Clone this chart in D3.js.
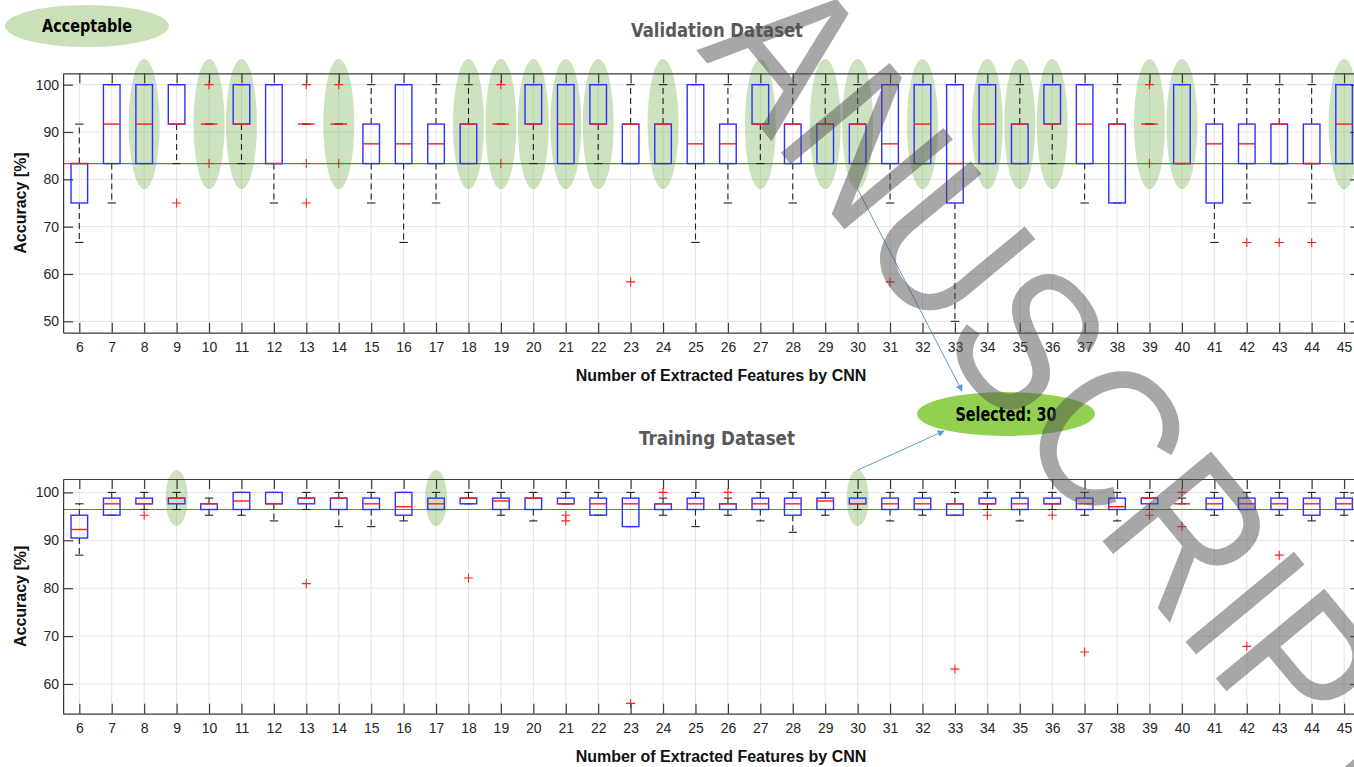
<!DOCTYPE html>
<html>
<head>
<meta charset="utf-8">
<script src="https://cdn.jsdelivr.net/npm/d3@7/dist/d3.min.js"></script>
<style>
	body { margin: 0; background: #fff; }
	svg { display: block; }
</style>
</head>
<body>
<div id="chart"></div>
<script>
// number of extracted features (x categories)
const FEATURES = [6,7,8,9,10,11,12,13,14,15,16,17,18,19,20,21,22,23,24,25,26,27,28,29,30,31,32,33,34,35,36,37,38,39,40,41,42,43,44,45];

// validation dataset box stats [%]
const VAL_Q1  = [75,83.33,83.33,91.67,91.67,91.67,83.33,91.67,91.67,83.33,83.33,83.33,83.33,91.67,91.67,83.33,91.67,83.33,83.33,83.33,83.33,91.67,83.33,83.33,83.33,83.33,83.33,75,83.33,83.33,91.67,83.33,75,91.67,83.33,75,83.33,83.33,83.33,83.33];
const VAL_MED = [83.33,91.67,91.67,91.67,91.67,91.67,83.33,91.67,91.67,87.5,87.5,87.5,91.67,91.67,91.67,91.67,91.67,91.67,91.67,87.5,87.5,91.67,91.67,91.67,91.67,87.5,91.67,83.33,91.67,91.67,91.67,91.67,91.67,91.67,83.33,87.5,87.5,91.67,83.33,91.67];
const VAL_Q3  = [83.33,100,100,100,91.67,100,100,91.67,91.67,91.67,100,91.67,91.67,91.67,100,100,100,91.67,91.67,100,91.67,100,91.67,91.67,91.67,100,100,100,100,91.67,100,100,91.67,91.67,100,91.67,91.67,91.67,91.67,100];
const VAL_LO  = [66.67,75,83.33,83.33,91.67,83.33,75,91.67,91.67,75,66.67,75,83.33,91.67,83.33,83.33,83.33,83.33,83.33,66.67,75,83.33,75,83.33,83.33,75,83.33,50,83.33,83.33,83.33,75,75,91.67,83.33,66.67,75,83.33,75,83.33];
const VAL_HI  = [91.67,100,100,100,91.67,100,100,91.67,91.67,100,100,100,100,91.67,100,100,100,100,100,100,100,100,100,100,100,100,100,100,100,100,100,100,100,91.67,100,100,100,100,100,100];
const VAL_OUT = [[],[],[],[75],[100,83.33],[],[],[100,83.33,75],[100,83.33],[],[],[],[],[100,83.33],[],[],[],[58.33],[],[],[],[],[],[],[],[58.33],[],[],[],[],[],[],[],[100,83.33],[],[],[66.67],[66.67],[66.67],[]];
const VAL_MARKED = [8,10,11,14,18,19,20,21,22,24,27,29,30,32,34,35,36,39,40,45];
const VAL_LIMIT = 83.33;

// training dataset box stats [%]
const TRN_Q1  = [90.48,95.24,97.62,97.62,96.43,96.43,97.62,97.62,96.43,96.43,95.24,96.43,97.62,96.43,96.43,97.62,95.24,92.86,96.43,96.43,96.43,96.43,95.24,96.43,97.62,96.43,96.43,95.24,97.62,96.43,97.62,96.43,96.43,97.62,97.62,96.43,96.43,96.43,95.24,96.43];
const TRN_MED = [92.26,97.62,97.62,98.81,97.62,98.21,97.62,98.81,98.81,97.62,97.02,97.62,98.81,98.21,98.81,97.62,97.62,97.62,97.62,97.62,97.62,97.62,97.62,98.21,97.62,97.62,97.62,97.62,97.62,97.62,97.62,97.62,97.02,98.81,97.62,97.62,97.62,97.62,97.62,97.62];
const TRN_Q3  = [95.24,98.81,98.81,98.81,97.62,100,100,98.81,98.81,98.81,100,98.81,98.81,98.81,98.81,98.81,98.81,98.81,97.62,98.81,97.62,98.81,98.81,98.81,98.81,98.81,98.81,97.62,98.81,98.81,98.81,98.81,98.81,98.81,97.62,98.81,98.81,98.81,98.81,98.81];
const TRN_LO  = [86.9,95.24,96.43,96.43,95.24,95.24,94.05,96.43,92.86,92.86,94.05,96.43,97.62,95.24,94.05,97.62,95.24,92.86,95.24,92.86,95.24,94.05,91.67,95.24,96.43,94.05,95.24,95.24,96.43,94.05,96.43,95.24,94.05,96.43,97.62,95.24,96.43,95.24,94.05,95.24];
const TRN_HI  = [97.62,100,100,100,98.81,100,100,100,100,100,100,100,100,100,100,100,100,100,98.81,100,98.81,100,100,100,100,100,100,100,100,100,100,100,100,100,98.81,100,100,100,100,100];
const TRN_OUT = [[],[],[95.24],[],[],[],[],[80.95],[],[],[],[],[82.14],[],[],[95.24,94.05],[],[55.95],[100],[],[100],[],[],[],[],[],[],[63.1],[95.24],[],[95.24],[66.67],[],[95.24],[100,92.86],[],[67.86],[86.9],[],[]];
const TRN_MARKED = [9,17,30];
const TRN_LIMIT = 96.43;

// tick labels
const VAL_YTICKS = [50,60,70,80,90,100];
const TRN_YTICKS = [60,70,80,90,100];

const SELECTED = 30;

// page + panel geometry
const CANVAS = { w: 1354, h: 767 };
const X_RANGE = [63.1, 1360.3];
const PANELS = [
	{ title: 'Validation Dataset', titleY: 37, q1: VAL_Q1, med: VAL_MED, q3: VAL_Q3, lo: VAL_LO, hi: VAL_HI, out: VAL_OUT,
	  marked: VAL_MARKED, limit: VAL_LIMIT, ticks: VAL_YTICKS, domain: [47.6, 102.4], range: [332.7, 73.3],
	  ellVal: 91.67, rx: 15.5, ry: 65 },
	{ title: 'Training Dataset', titleY: 445, q1: TRN_Q1, med: TRN_MED, q3: TRN_Q3, lo: TRN_LO, hi: TRN_HI, out: TRN_OUT,
	  marked: TRN_MARKED, limit: TRN_LIMIT, ticks: TRN_YTICKS, domain: [53.8, 102.8], range: [713.7, 479],
	  ellVal: 98.81, rx: 11, ry: 28 }
];

const COLORS = {
	box: '#2f2fff',
	median: '#ff1a1a',
	whisker: '#222',
	outlier: '#ff2020',
	grid: '#e4e4e4',
	axis: '#3a3a3a',
	text: '#262626',
	limit: '#5b8c3e',
	mark: '#70ad47',
	selected: '#92d050',
	arrow: '#5b9bd5',
	title: '#595959'
};

const BOX_HALF = 8.3;
const CAP_HALF = 4.2;
const PLUS = 4.5;

const svg = d3.select('#chart').append('svg')
	.attr('width', CANVAS.w)
	.attr('height', CANVAS.h)
	.attr('viewBox', `0 0 ${CANVAS.w} ${CANVAS.h}`);

svg.append('defs').append('marker')
	.attr('id', 'head')
	.attr('viewBox', '0 0 10 10')
	.attr('refX', 9).attr('refY', 5)
	.attr('markerWidth', 7).attr('markerHeight', 7)
	.attr('orient', 'auto')
	.append('path')
	.attr('d', 'M0,0L10,5L0,10z')
	.attr('fill', COLORS.arrow);

const x = d3.scaleLinear().domain([5.5, 45.5]).range(X_RANGE);

const centers = [];

PANELS.forEach(p => {
	const y = d3.scaleLinear().domain(p.domain).range(p.range);
	const g = svg.append('g');
	const yB = p.range[0], yT = p.range[1];

	// grid
	g.append('g').selectAll('line.vx').data(FEATURES).join('line')
		.attr('x1', d => x(d)).attr('x2', d => x(d))
		.attr('y1', yT).attr('y2', yB)
		.attr('stroke', COLORS.grid).attr('stroke-width', 1);
	g.append('g').selectAll('line.hy').data(p.ticks).join('line')
		.attr('x1', X_RANGE[0]).attr('x2', X_RANGE[1])
		.attr('y1', d => y(d)).attr('y2', d => y(d))
		.attr('stroke', COLORS.grid).attr('stroke-width', 1);

	// acceptable marks
	g.append('g').selectAll('ellipse').data(p.marked).join('ellipse')
		.attr('cx', d => x(d)).attr('cy', y(p.ellVal))
		.attr('rx', p.rx).attr('ry', p.ry)
		.attr('fill', COLORS.mark).attr('fill-opacity', 0.35);

	// limit line
	g.append('line')
		.attr('x1', X_RANGE[0]).attr('x2', X_RANGE[1])
		.attr('y1', y(p.limit)).attr('y2', y(p.limit))
		.attr('stroke', COLORS.limit).attr('stroke-width', 1.2);

	const rows = FEATURES.map((f, i) => ({
		f, q1: p.q1[i], med: p.med[i], q3: p.q3[i], lo: p.lo[i], hi: p.hi[i], out: p.out[i]
	}));

	const box = g.append('g').selectAll('g.box').data(rows).join('g')
		.attr('transform', d => `translate(${x(d.f)},0)`);

	box.append('line')
		.attr('y1', d => y(d.q3)).attr('y2', d => y(d.hi))
		.attr('stroke', COLORS.whisker).attr('stroke-width', 1.1)
		.attr('stroke-dasharray', '6,4');
	box.append('line')
		.attr('y1', d => y(d.q1)).attr('y2', d => y(d.lo))
		.attr('stroke', COLORS.whisker).attr('stroke-width', 1.1)
		.attr('stroke-dasharray', '6,4');
	box.append('line')
		.attr('x1', -CAP_HALF).attr('x2', CAP_HALF)
		.attr('y1', d => y(d.hi)).attr('y2', d => y(d.hi))
		.attr('stroke', COLORS.whisker).attr('stroke-width', 1.1);
	box.append('line')
		.attr('x1', -CAP_HALF).attr('x2', CAP_HALF)
		.attr('y1', d => y(d.lo)).attr('y2', d => y(d.lo))
		.attr('stroke', COLORS.whisker).attr('stroke-width', 1.1);
	box.append('rect')
		.attr('x', -BOX_HALF).attr('width', BOX_HALF * 2)
		.attr('y', d => y(d.q3)).attr('height', d => y(d.q1) - y(d.q3))
		.attr('fill', 'none').attr('stroke', COLORS.box).attr('stroke-width', 1.4);
	box.append('line')
		.attr('x1', -BOX_HALF).attr('x2', BOX_HALF)
		.attr('y1', d => y(d.med)).attr('y2', d => y(d.med))
		.attr('stroke', COLORS.median).attr('stroke-width', 1.4);
	box.selectAll('path.out').data(d => d.out).join('path')
		.attr('d', v => `M${-PLUS},${y(v)}H${PLUS}M0,${y(v) - PLUS}V${y(v) + PLUS}`)
		.attr('stroke', COLORS.outlier).attr('stroke-width', 1.1).attr('fill', 'none');

	// axes, ticks inside like matlab
	const axB = g.append('g').attr('transform', `translate(0,${yB})`)
		.call(d3.axisBottom(x).tickValues(FEATURES).tickSize(-10).tickSizeOuter(0).tickPadding(9));
	const axT = g.append('g').attr('transform', `translate(0,${yT})`)
		.call(d3.axisTop(x).tickValues(FEATURES).tickSize(-10).tickSizeOuter(0).tickFormat(''));
	const axL = g.append('g').attr('transform', `translate(${X_RANGE[0]},0)`)
		.call(d3.axisLeft(y).tickValues(p.ticks).tickSize(-10).tickSizeOuter(0).tickPadding(4));
	const axR = g.append('g').attr('transform', `translate(${X_RANGE[1]},0)`)
		.call(d3.axisRight(y).tickValues(p.ticks).tickSize(-10).tickSizeOuter(0).tickFormat(''));

	[axB, axT, axL, axR].forEach(a => {
		a.selectAll('path, line').attr('stroke', COLORS.axis).attr('stroke-width', 1.2);
		a.selectAll('text')
			.attr('fill', COLORS.text)
			.attr('font-size', 14)
			.attr('font-family', '"Liberation Sans", Arial, sans-serif');
	});

	g.append('text')
		.attr('x', 721).attr('y', yB + 48)
		.attr('text-anchor', 'middle')
		.attr('font-family', '"Liberation Sans", Arial, sans-serif')
		.attr('font-weight', 'bold').attr('font-size', 16)
		.attr('fill', '#111')
		.text('Number of Extracted Features by CNN');

	g.append('text')
		.attr('transform', `translate(26,${(yB + yT) / 2}) rotate(-90)`)
		.attr('text-anchor', 'middle')
		.attr('font-family', '"Liberation Sans", Arial, sans-serif')
		.attr('font-weight', 'bold').attr('font-size', 16)
		.attr('fill', '#111')
		.text('Accuracy [%]');

	g.append('text')
		.attr('x', 717).attr('y', p.titleY)
		.attr('text-anchor', 'middle')
		.attr('font-family', '"Liberation Sans Narrow", "DejaVu Sans Condensed", "Open Sans", sans-serif')
		.attr('font-weight', 'bold').attr('font-size', 20)
		.attr('textLength', p.title === 'Validation Dataset' ? 172 : 156)
		.attr('lengthAdjust', 'spacingAndGlyphs')
		.attr('fill', COLORS.title)
		.text(p.title);

	centers.push({ x: x(SELECTED), top: y(p.ellVal) - p.ry, bottom: y(p.ellVal) + p.ry });
});

// "Acceptable" legend
svg.append('ellipse')
	.attr('cx', 87).attr('cy', 26).attr('rx', 82).attr('ry', 21)
	.attr('fill', COLORS.mark).attr('fill-opacity', 0.38);
svg.append('text')
	.attr('x', 87).attr('y', 32)
	.attr('text-anchor', 'middle')
	.attr('font-family', '"Liberation Sans Narrow", "DejaVu Sans Condensed", "Open Sans", sans-serif')
	.attr('font-weight', 'bold').attr('font-size', 18)
	.attr('textLength', 90).attr('lengthAdjust', 'spacingAndGlyphs')
	.attr('fill', '#000')
	.text('Acceptable');

// "Selected" callout
svg.append('line')
	.attr('x1', centers[0].x).attr('y1', centers[0].bottom)
	.attr('x2', 962).attr('y2', 391)
	.attr('stroke', COLORS.arrow).attr('stroke-width', 1)
	.attr('marker-end', 'url(#head)');
svg.append('line')
	.attr('x1', centers[1].x).attr('y1', centers[1].top)
	.attr('x2', 944).attr('y2', 431)
	.attr('stroke', COLORS.arrow).attr('stroke-width', 1)
	.attr('marker-end', 'url(#head)');
svg.append('ellipse')
	.attr('cx', 1006).attr('cy', 414).attr('rx', 89).attr('ry', 22)
	.attr('fill', COLORS.selected);
svg.append('text')
	.attr('x', 1006).attr('y', 421)
	.attr('text-anchor', 'middle')
	.attr('font-family', '"Liberation Sans Narrow", "DejaVu Sans Condensed", "Open Sans", sans-serif')
	.attr('font-weight', 'bold').attr('font-size', 19)
	.attr('textLength', 101).attr('lengthAdjust', 'spacingAndGlyphs')
	.attr('fill', '#000')
	.text('Selected: ' + SELECTED);

// journal watermark (tall, thin letters along the diagonal)
svg.append('g')
	.attr('transform', 'translate(696,50) rotate(50.4) scale(1,1.15)')
	.append('text')
	.attr('font-family', '"Liberation Sans", Arial, sans-serif')
	.attr('font-size', 178)
	.attr('fill', '#505050').attr('fill-opacity', 0.5)
	.text('ANUSCRIPT');
</script>
</body>
</html>
